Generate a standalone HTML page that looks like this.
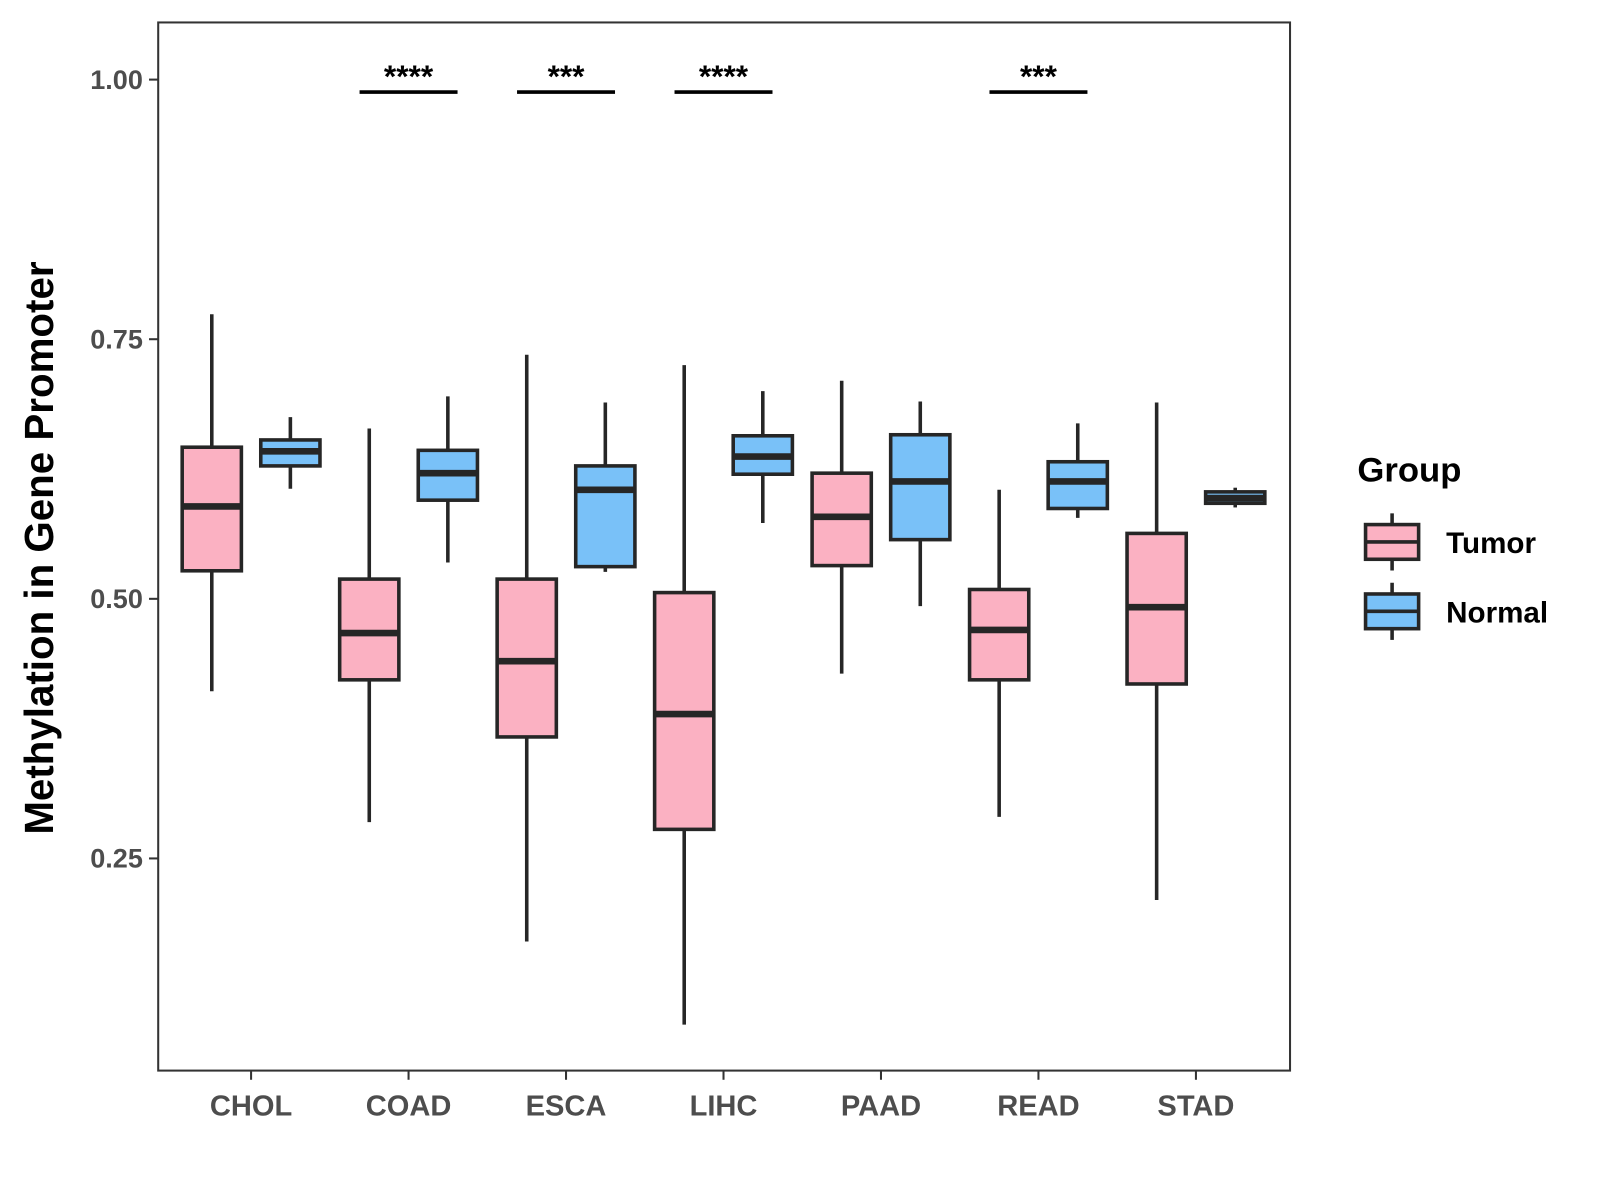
<!DOCTYPE html>
<html><head><meta charset="utf-8"><style>
body{margin:0;background:#fff;}
svg{display:block;font-family:"Liberation Sans",Arial,sans-serif;}
</style></head><body>
<svg id="chart" width="1600" height="1200" viewBox="0 0 1567.7 1175.8">
<rect x="155" y="22" width="1109" height="1027" fill="#fff" stroke="#333" stroke-width="2"/>
<g id="marks"></g>
<g id="axes"></g>
<text transform="translate(52,537) rotate(-90)" text-anchor="middle" font-size="39.5" font-weight="bold" fill="#000">Methylation in Gene Promoter</text>
<g>
<text x="1330" y="472" font-size="34" font-weight="bold">Group</text>
<g>
<line x1="1364" y1="503" x2="1364" y2="559" stroke="#262626" stroke-width="3.5"/>
<rect x="1338" y="514" width="52" height="34" fill="#fbb1c2" stroke="#262626" stroke-width="3.5"/>
<line x1="1338" y1="531" x2="1390" y2="531" stroke="#262626" stroke-width="3.5"/>
<text x="1417" y="542" font-size="29" font-weight="bold">Tumor</text></g>
<g>
<line x1="1364" y1="571" x2="1364" y2="627" stroke="#262626" stroke-width="3.5"/>
<rect x="1338" y="582" width="52" height="34" fill="#79c1f8" stroke="#262626" stroke-width="3.5"/>
<line x1="1338" y1="599" x2="1390" y2="599" stroke="#262626" stroke-width="3.5"/>
<text x="1417" y="610" font-size="29" font-weight="bold">Normal</text></g>
</g>
</svg>
<script>
const categories=["CHOL","COAD","ESCA","LIHC","PAAD","READ","STAD"];
// [low, q1, median, q3, high]
const tumorStats=[[0.411,0.527,0.589,0.646,0.774],[0.285,0.422,0.467,0.519,0.664],[0.170,0.367,0.440,0.519,0.735],[0.090,0.278,0.389,0.506,0.725],[0.428,0.532,0.579,0.621,0.710],[0.290,0.422,0.470,0.509,0.605],[0.210,0.418,0.492,0.563,0.689]];
const normalStats=[[0.606,0.628,0.642,0.653,0.675],[0.535,0.595,0.621,0.643,0.695],[0.526,0.531,0.605,0.628,0.689],[0.573,0.620,0.637,0.657,0.700],[0.493,0.557,0.613,0.658,0.690],[0.578,0.587,0.613,0.632,0.669],[0.588,0.592,0.597,0.603,0.607]];
const sigLabels=["","****","***","****","","***",""];
const yTicks=[0.25,0.5,0.75,1.0];
const yTickLabels=["0.25","0.50","0.75","1.00"];
const NS="http://www.w3.org/2000/svg";
const y=v=>78+(1-v)*1017.5;
const x=i=>246+i*154.3;
function mk(tag,attrs,parent){const e=document.createElementNS(NS,tag);for(const k in attrs)e.setAttribute(k,attrs[k]);parent.appendChild(e);return e;}
const marks=document.getElementById('marks'),axes=document.getElementById('axes');
function box(cx,s,fill,name){
  const g=mk('g',{},marks);
  
  
  mk('line',{x1:cx,x2:cx,y1:y(s[4]),y2:y(s[0]),stroke:'#262626','stroke-width':3.5},g);
  mk('rect',{x:cx-29,y:y(s[3]),width:58,height:y(s[1])-y(s[3]),fill:fill,stroke:'#262626','stroke-width':3.5},g);
  mk('line',{x1:cx-29,x2:cx+29,y1:y(s[2]),y2:y(s[2]),stroke:'#262626','stroke-width':6.5},g);
}
categories.forEach((c,i)=>{
  box(x(i)-38.5,tumorStats[i],'#fbb1c2','box-'+c.toLowerCase()+'-tumor');
  box(x(i)+38.5,normalStats[i],'#79c1f8','box-'+c.toLowerCase()+'-normal');
  if(sigLabels[i]){
    const g=mk('g',{},marks);
    
    
    mk('line',{x1:x(i)-48,x2:x(i)+48,y1:y(0.988),y2:y(0.988),stroke:'#000','stroke-width':3.5},g);
    const t=mk('text',{x:x(i),y:y(0.988)-5,'text-anchor':'middle','font-size':31,'font-weight':'bold'},g);
    t.textContent=sigLabels[i];
  }
  mk('line',{x1:x(i),x2:x(i),y1:1049,y2:1058,stroke:'#333','stroke-width':2},axes);
  const t=mk('text',{x:x(i),y:1093,'text-anchor':'middle','font-size':28.5,'font-weight':'bold',fill:'#4d4d4d'},axes);
  
  
  t.textContent=c;
});
yTicks.forEach((v,i)=>{
  mk('line',{x1:146,x2:155,y1:y(v),y2:y(v),stroke:'#333','stroke-width':2},axes);
  const t=mk('text',{x:140,y:y(v)+9,'text-anchor':'end','font-size':26.5,'font-weight':'bold',fill:'#4d4d4d'},axes);
  
  
  t.textContent=yTickLabels[i];
});
</script>
</body></html>
